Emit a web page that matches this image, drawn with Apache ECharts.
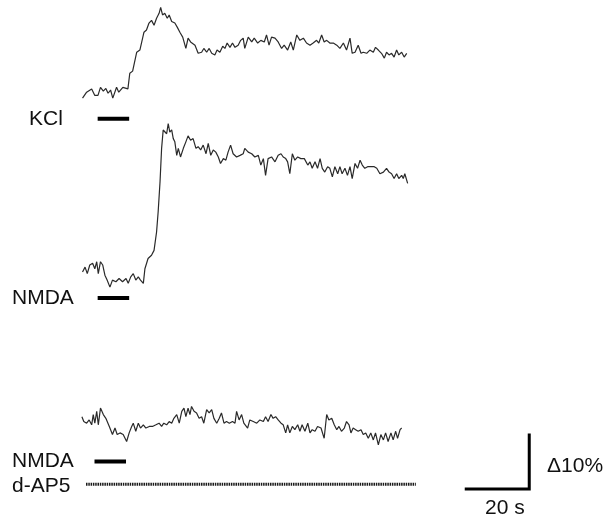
<!DOCTYPE html>
<html>
<head>
<meta charset="utf-8" />
<title>Calcium traces</title>
<script src="https://cdn.jsdelivr.net/npm/echarts@6/dist/echarts.min.js"></script>
<style>
  html, body { margin: 0; padding: 0; background: #fff; }
  #chart { width: 608px; height: 522px; }
</style>
</head>
<body>
<div id="chart"></div>
<script type="text/javascript">
// time (s) from start of trace, dF/F (%) relative to baseline
var kclTrace = [[0.2,-1.1],[1.5,0],[3.1,0.6],[4.1,-0.6],[5.1,-0.6],[5.9,0.9],[6.8,0.2],[7.6,0.7],[8.3,-0.2],[9.1,0.4],[9.8,-1.1],[11.0,0.9],[11.7,0],[13.0,0.9],[14.6,0.6],[15.2,3.5],[16.1,3.9],[17.4,7.4],[18.4,7.8],[19.0,9.3],[19.7,11.1],[20.5,11.5],[21.3,12.8],[22.1,13.3],[22.9,12.4],[23.7,13.7],[24.5,14.6],[25.0,15.7],[25.6,14.3],[26.3,14.6],[27.1,13.7],[27.7,14.3],[28.5,13.1],[29.5,12.8],[30.3,12.0],[31.1,11.1],[32.0,10.2],[33.0,8.1],[33.7,10.0],[34.5,9.3],[35.1,9.6],[35.9,8.7],[36.9,7.2],[38.0,7.4],[38.7,8.1],[39.6,7.4],[40.4,8.1],[41.2,7.2],[42.2,6.9],[42.9,7.8],[43.8,7.4],[44.7,8.5],[45.4,8.1],[46.1,9.1],[47.0,8.3],[47.8,9.1],[48.6,8.3],[49.6,8.7],[50.4,9.6],[51.2,10.0],[51.7,8.1],[52.8,10.2],[53.9,9.3],[54.7,10.0],[55.8,9.1],[56.8,9.6],[57.9,9.3],[58.6,10.6],[59.4,8.7],[60.2,10.2],[61.3,10.0],[62.3,9.3],[63.4,8.1],[64.2,8.7],[65.3,7.8],[66.3,9.3],[67.1,7.8],[68.2,10.6],[69.2,9.6],[70.3,10.0],[71.3,9.1],[72.4,8.7],[73.4,9.1],[74.5,9.6],[75.2,9.1],[76.1,10.6],[76.9,9.3],[77.7,9.6],[78.7,9.1],[79.8,9.1],[80.9,8.7],[81.9,8.1],[83.0,9.1],[84.0,7.8],[85.1,10.0],[85.8,7.2],[86.7,7.4],[87.7,8.7],[88.6,7.2],[89.3,7.4],[90.4,7.2],[91.4,7.8],[92.5,7.4],[93.2,8.3],[94.1,7.8],[95.1,7.2],[96.0,6.3],[96.7,7.4],[97.5,6.9],[98.3,7.2],[99.1,6.5],[99.9,7.8],[100.6,6.9],[101.5,7.4],[102.3,6.5],[103.1,7.2]];

var nmdaTrace = [[0.2,-0.7],[1.0,0.2],[1.7,-1.0],[2.5,0.6],[3.4,0.9],[4.1,-0.1],[4.7,1.2],[5.2,-1.0],[5.9,1.2],[6.6,0.6],[7.3,-1.3],[8.0,-2.2],[8.9,-3.5],[9.7,-2.2],[10.8,-2.5],[11.8,-1.9],[12.9,-2.5],[14.0,-1.9],[14.7,-2.8],[15.5,-1.6],[16.3,-1.0],[17.1,-2.2],[17.9,-1.6],[18.6,-2.2],[19.5,-2.8],[20.0,-0.1],[21.0,1.8],[22.1,2.4],[22.9,3.3],[23.7,6.7],[24.2,10.4],[24.8,16.0],[25.3,22.2],[25.8,25.6],[26.3,25.9],[26.9,24.9],[27.4,26.8],[27.9,25.2],[28.5,25.6],[29.0,24.0],[29.5,23.4],[30.1,20.9],[30.6,22.2],[31.3,20.6],[32.2,22.2],[33.0,23.4],[33.7,24.5],[34.5,23.7],[35.3,24.0],[36.2,22.2],[36.9,22.5],[37.7,21.9],[38.5,22.8],[39.4,21.2],[40.1,23.1],[40.9,20.9],[41.7,21.9],[42.5,21.5],[43.3,20.6],[44.0,19.4],[44.9,20.3],[45.7,20.0],[46.4,21.5],[47.2,22.8],[48.0,21.2],[49.1,20.6],[50.2,20.9],[51.2,21.2],[51.7,22.2],[52.8,21.5],[53.9,21.2],[54.9,20.6],[56.0,20.9],[56.8,19.1],[57.6,20.3],[58.3,17.2],[59.1,20.3],[60.2,20.6],[61.3,19.7],[62.3,20.9],[63.2,21.2],[63.9,20.6],[64.7,20.3],[65.3,19.7],[66.0,17.5],[66.8,21.2],[67.6,20.0],[68.5,20.6],[69.5,20.3],[70.6,20.3],[71.7,19.1],[72.4,19.7],[73.1,18.5],[74.0,19.7],[74.8,18.5],[75.6,20.3],[76.3,18.5],[77.1,17.8],[78.0,18.8],[78.7,18.5],[79.5,16.9],[80.3,18.8],[81.2,17.5],[81.9,18.8],[82.6,17.5],[83.5,18.5],[84.3,17.2],[85.1,18.8],[85.8,16.6],[86.7,19.4],[87.5,18.5],[88.3,20.0],[89.0,19.1],[89.8,18.5],[90.7,18.8],[91.7,18.8],[92.8,18.8],[93.6,18.5],[94.6,17.5],[95.7,17.8],[96.7,18.5],[97.5,17.8],[98.3,17.5],[99.1,16.6],[99.9,17.5],[100.6,16.6],[101.5,17.2],[102.0,16.6],[102.5,17.5],[103.4,15.7]];

var nmdaAp5Trace = [[0.0,0.2],[0.6,-0.7],[1.5,-1.0],[2.3,-0.4],[3.1,-1.3],[3.6,0.6],[4.1,-1.0],[4.7,1.2],[5.2,-1.3],[5.9,1.8],[6.8,0.6],[7.6,-0.1],[8.7,-1.6],[9.7,-3.1],[10.5,-1.9],[11.2,-3.1],[12.1,-2.8],[13.1,-3.1],[14.2,-4.4],[15.0,-2.8],[15.8,-1.6],[16.3,-1.0],[17.1,-2.5],[17.9,-1.0],[18.6,-1.9],[19.5,-1.3],[20.3,-1.9],[21.4,-1.6],[22.4,-1.6],[23.5,-1.3],[24.5,-1.0],[25.3,-1.6],[26.0,-1.0],[26.9,-1.3],[27.7,-0.7],[28.5,-1.0],[29.2,-0.1],[30.1,0.6],[30.9,-1.0],[31.7,1.2],[32.4,1.8],[33.0,0.2],[33.7,1.8],[34.3,0.6],[34.8,2.1],[35.6,1.2],[36.4,0.9],[37.2,-0.1],[38.0,0.2],[38.7,-1.0],[39.6,1.5],[40.4,0.9],[41.2,1.5],[41.9,-0.1],[42.8,-1.0],[43.6,-0.1],[44.3,0.9],[45.1,-1.0],[45.9,-0.7],[46.8,-1.0],[47.8,-0.7],[48.6,-1.0],[49.1,1.2],[49.9,-0.4],[50.7,0.6],[51.4,-1.0],[52.6,-1.9],[53.3,-0.4],[54.4,-0.7],[55.5,-1.0],[56.5,-0.4],[57.6,-0.7],[58.3,0.2],[59.1,-0.7],[60.0,0.6],[60.7,-0.1],[61.5,0.2],[62.3,-0.4],[63.2,-1.0],[63.9,-1.3],[64.7,-2.8],[65.3,-1.3],[66.0,-2.8],[66.8,-1.6],[67.6,-2.2],[68.5,-1.3],[69.2,-2.5],[69.9,-1.3],[70.8,-2.5],[71.7,-1.0],[72.4,-2.8],[73.1,-2.2],[74.0,-2.5],[74.8,-1.6],[75.9,-1.9],[76.9,-3.8],[77.7,0.6],[78.4,-0.4],[79.3,-0.1],[80.1,-1.3],[80.9,-2.2],[81.6,-1.6],[82.4,-2.5],[83.3,-1.9],[84.0,-0.7],[84.8,-1.3],[85.4,-2.8],[86.1,-1.9],[86.9,-2.2],[87.7,-2.5],[88.6,-2.2],[89.3,-3.1],[90.1,-2.8],[90.9,-3.8],[91.7,-2.8],[92.5,-4.1],[93.2,-2.8],[94.1,-5.0],[94.9,-3.1],[95.7,-4.1],[96.4,-2.8],[97.2,-4.4],[98.1,-2.8],[98.8,-4.1],[99.6,-2.5],[100.2,-3.8],[101.0,-2.2],[101.5,-1.9]];

// drug applications (s)
var stimLabels = ['KCl', 'NMDA', 'NMDA'];
var stimWindows = [[5, 15], [5, 15], [4, 14]];
var ap5Label = 'd-AP5';
var ap5Window = [1.3, 106];

// scale bar
var scaleTime = 20;   // s
var scaleAmp = 10;    // %
var scaleTimeLabel = '20 s';
var scaleAmpLabel = '\u039410%';

// layout (vertical offsets of each row, in % units; px = 522 - v*5.4)
var traceBase = [79.6, 47.0, 19.3];
var stimLevel = [74.7, 41.5, 11.2];
var ap5Level = 7.0;
var scaleOrigin = [122, 6.1];

function shift(trace, off) {
  return trace.map(function (p) { return [p[0], p[1] + off]; });
}

var traces = [kclTrace, nmdaTrace, nmdaAp5Trace];
var series = [];

traces.forEach(function (tr, i) {
  series.push({
    type: 'line',
    data: shift(tr, traceBase[i]),
    symbol: 'none',
    silent: true,
    lineStyle: { color: '#2a2a2a', width: 1.2 }
  });
  series.push({
    type: 'line',
    data: [[stimWindows[i][0], stimLevel[i]], [stimWindows[i][1], stimLevel[i]]],
    symbol: 'none',
    silent: true,
    lineStyle: { color: '#000', width: 4, cap: 'butt' }
  });
});

// d-AP5 bath application
series.push({
  type: 'line',
  data: [[ap5Window[0], ap5Level], [ap5Window[1], ap5Level]],
  symbol: 'none',
  silent: true,
  lineStyle: { color: '#1a1a1a', width: 3, type: [1.5, 0.8] }
});

// scale bar
series.push({
  type: 'line',
  data: [
    [scaleOrigin[0], scaleOrigin[1]],
    [scaleOrigin[0] + scaleTime, scaleOrigin[1]],
    [scaleOrigin[0] + scaleTime, scaleOrigin[1] + scaleAmp]
  ],
  symbol: 'none',
  silent: true,
  lineStyle: { color: '#000', width: 3, join: 'miter', cap: 'square' }
});

var font = '21px "Liberation Sans", Arial, sans-serif';
function label(text, x, y) {
  return { type: 'text', x: x, y: y, silent: true,
    style: { text: text, font: font, fill: '#111', verticalAlign: 'middle' } };
}

var option = {
  animation: false,
  grid: { left: 0, right: 0, top: 0, bottom: 0 },
  xAxis: { type: 'value', min: -26, max: 167, show: false },
  yAxis: { type: 'value', min: 0, max: 96.67, show: false },
  graphic: [
    label(stimLabels[0], 29, 119),
    label(stimLabels[1], 12, 298),
    label(stimLabels[2], 12, 461),
    label(ap5Label, 12, 486),
    label(scaleAmpLabel, 547, 466),
    label(scaleTimeLabel, 485, 508)
  ],
  series: series
};

var myChart = echarts.init(document.getElementById('chart'));
myChart.setOption(option);
</script>
</body>
</html>
